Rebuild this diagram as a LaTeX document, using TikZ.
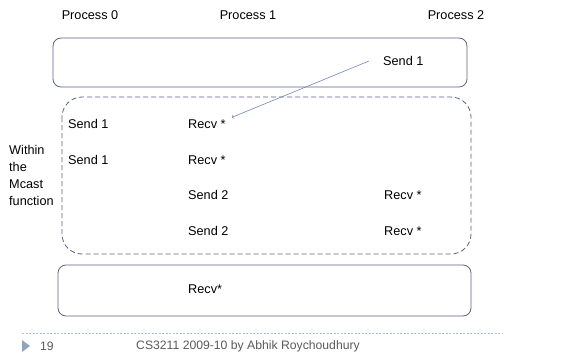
\documentclass[tikz,border=0pt]{standalone}
\usepackage{fontspec}
\setmainfont{Liberation Sans}
\usepackage{tikz}

\definecolor{boxline}{HTML}{5C6384}
\definecolor{msgline}{HTML}{7484BC}
\definecolor{footline}{HTML}{A9C1DA}
\definecolor{foottext}{HTML}{5A5A5A}

\begin{document}
\begin{tikzpicture}[x=1pt,y=-1pt,
  every node/.style={inner sep=0pt, font=\fontsize{12.7}{17}\selectfont},
  op/.style={anchor=west},
  frame/.style={boxline, line width=0.8pt, rounded corners=8pt},
  link/.style={msgline, line width=0.6pt, ->}]
\useasboundingbox (0,0) rectangle (579,356);
% process headings
\node (p0) at (90,15) {Process 0};
\node (p1) at (248,15) {Process 1};
\node (p2) at (456,15) {Process 2};
% first phase
\draw [frame] (53,38) rectangle (467,87);
\node [op] (sendA) at (383,61) {Send 1};
% inside the multicast
\draw [frame, dash pattern=on 5pt off 3pt, rounded corners=20pt] (62,97) rectangle (471,254);
\node [op, align=left] (within) at (9,175) {Within\\the\\Mcast\\function};
\node [op] (s0a) at (68,124) {Send 1};
\node [op] (r1a) at (188,124) {Recv *};
\node [op] (s0b) at (68,160) {Send 1};
\node [op] (r1b) at (188,160) {Recv *};
\node [op] (s1a) at (188,195) {Send 2};
\node [op] (r2a) at (384,195) {Recv *};
\node [op] (s1b) at (188,231) {Send 2};
\node [op] (r2b) at (384,231) {Recv *};
\draw [link] ([xshift=-14pt]sendA.west) -- ([xshift=6pt,yshift=2pt]r1a.north east);
% last phase
\draw [frame] (58,265) rectangle (471,316);
\node [op] (r1c) at (188,289) {Recv*};
% footer
\draw [footline, line width=0.6pt, dash pattern=on 2pt off 1.5pt] (22,333) -- (503,333);
\fill [footline!85!black] (22,340) -- (30,346) -- (22,352) -- cycle;
\node [op, foottext, font=\fontsize{12.2}{14}\selectfont] (page) at (40,346) {19};
\node [foottext, font=\fontsize{12.2}{14}\selectfont] (credit) at (248,346) {CS3211 2009-10 by Abhik Roychoudhury};
\end{tikzpicture}
\end{document}
